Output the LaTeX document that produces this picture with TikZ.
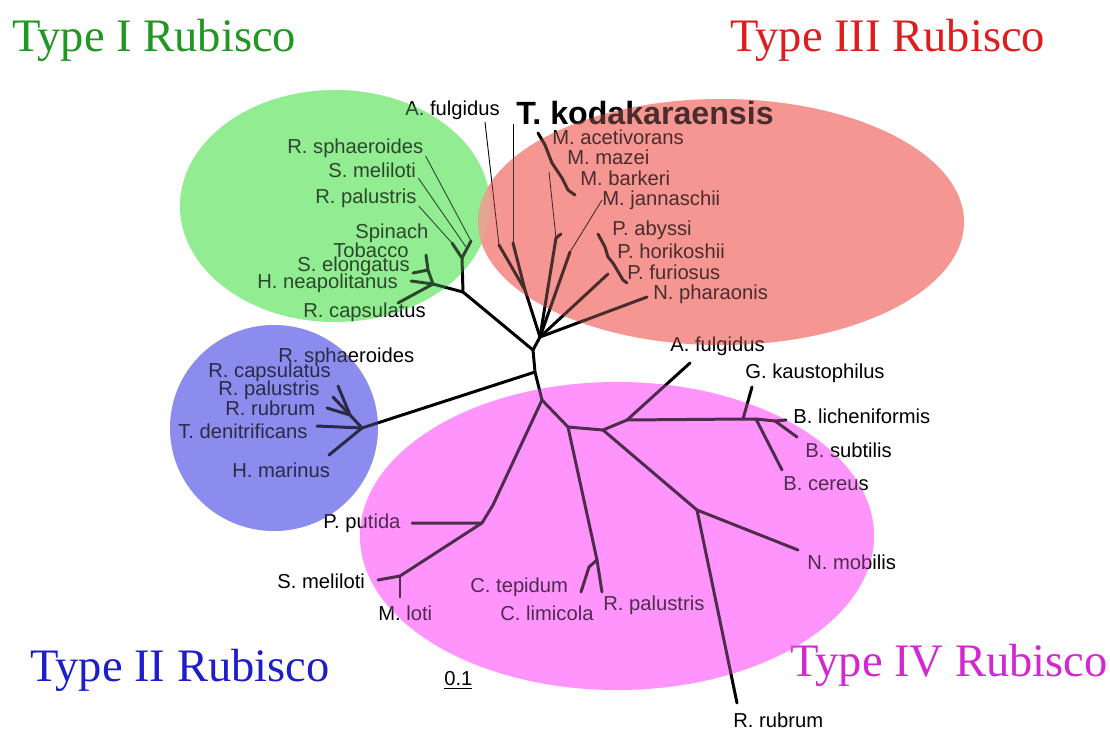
\documentclass[tikz,border=0pt]{standalone}
\usepackage{fontspec}
\setmainfont{Liberation Serif}
\newfontfamily\labfont{Liberation Sans}
\usetikzlibrary{positioning}
\definecolor{grfill}{RGB}{146,236,146}
\definecolor{rdfill}{RGB}{245,150,146}
\definecolor{blfill}{RGB}{140,140,238}
\definecolor{pkfill}{RGB}{255,148,252}
\definecolor{grtxt}{RGB}{34,150,34}
\definecolor{rdtxt}{RGB}{222,30,30}
\definecolor{bltxt}{RGB}{30,30,200}
\definecolor{pktxt}{RGB}{210,40,210}

\begin{document}
\begin{tikzpicture}[x=0.02cm, y=-0.02cm,
	br/.style={line width=1.7pt, line cap=round, line join=round},
	lead/.style={line width=0.5pt},
	lab/.style={font=\labfont\fontsize{11.5}{13}\selectfont, inner sep=0pt, anchor=west},
	ttl/.style={font=\fontsize{26.5}{30}\selectfont, inner sep=0pt, anchor=west},
	tint/.style={fill opacity=0.3}]
				\useasboundingbox (0,0) rectangle (1110,731);
				% draw groups
				\fill[grfill] (335,206) ellipse (155 and 116);
				\fill[rdfill] (721,222) ellipse (243 and 123);
				\fill[blfill] (274,428) ellipse (104 and 103);
				\fill[pkfill] (617,536) ellipse (257 and 154);
				% titles
				\node[ttl, text=grtxt] (t1) at (12,40) {Type I Rubisco};
				\node[ttl, text=rdtxt] (t3) at (730,40) {Type III Rubisco};
				\node[ttl, text=bltxt] (t2) at (30,670) {Type II Rubisco};
				\node[ttl, text=pktxt] (t4) at (790,665) {Type IV Rubisco};
				% backbone
				\coordinate (n3) at (540,337);
				\coordinate (n1) at (533,350);
				\coordinate (n2) at (535,372);
				\coordinate (n4) at (542,400);
				\draw[br] (n3) -- (n1) -- (n2) -- (n4);
				% type I
				\coordinate (i0) at (463,292);
				\coordinate (i1) at (462,258);
				\coordinate (i1a) at (452,243);
				\coordinate (i1b) at (471,241);
				\coordinate (i1c) at (466,247);
				\coordinate (i2) at (433,284);
				\coordinate (i2a) at (411,281);
				\coordinate (i2b) at (398,303);
				\coordinate (i3) at (428,270);
				\coordinate (i3a) at (426,255);
				\coordinate (i3b) at (413,273);
				\draw[br] (n1) -- (i0) -- (i1) -- (i1a);
				\draw[br] (i1) -- (i1b);
				\draw[br] (i0) -- (i2) -- (i2a);
				\draw[br] (i2) -- (i2b);
				\draw[br] (i2) -- (i3) -- (i3a);
				\draw[br] (i3) -- (i3b);
				\node[lab] (g1) at (287,148) {R. sphaeroides};
				\node[lab] (g2) at (328,170) {S. meliloti};
				\node[lab] (g3) at (315,198) {R. palustris};
				\node[lab] (g4) at (355,233) {Spinach};
				\node[lab] (g5) at (333,250) {Tobacco};
				\node[lab] (g6) at (297,266) {S. elongatus};
				\node[lab] (g7) at (257,283) {H. neapolitanus};
				\node[lab] (g8) at (303,312) {R. capsulatus};
				\draw[lead] (g1.east) ++(2,8) -- (i1b);
				\draw[lead] (g2.east) ++(2,8) -- (i1c);
				\draw[lead] (g3.east) ++(2,8) -- (i1a);
				% type III
				\coordinate (k3) at (525,290);
				\coordinate (a3) at (499,245);
				\coordinate (tk) at (513,243);
				\coordinate (m3) at (556,238);
				\coordinate (j3) at (570,252);
				\coordinate (p3) at (608,274);
				\coordinate (np) at (647,297);
				\draw[br] (n3) -- (k3) -- (a3);
				\draw[br] (k3) -- (tk);
				\draw[br] (n3) -- (m3) -- ++(5,-4);
				\draw[br] (n3) -- (j3);
				\draw[br] (n3) -- (p3);
				\draw[br] (n3) -- (np);
				\draw[br] (538,133) -- (545,145) -- (552,163) -- (562,178) -- (568,190) -- (575,195);
				\draw[br] (598,234) -- (605,247) -- (608,257) -- (613,263) -- (623,280) -- (627,283);
				\node[lab] (r0) at (405,110) {A. fulgidus};
				\node[lab, font=\labfont\bfseries\fontsize{18.3}{20}\selectfont] (r1) at (516,113) {T. kodakaraensis};
				\node[lab] (r2) at (552,137) {M. acetivorans};
				\node[lab] (r3) at (567,157) {M. mazei};
				\node[lab] (r4) at (580,178) {M. barkeri};
				\node[lab] (r5) at (602,200) {M. jannaschii};
				\node[lab] (r6) at (612,230) {P. abyssi};
				\node[lab] (r7) at (617,251) {P. horikoshii};
				\node[lab] (r8) at (627,272) {P. furiosus};
				\node[lab] (r9) at (653,294) {N. pharaonis};
				\draw[lead] (485,122) -- (a3);
				\draw[lead] (513,124) -- (tk);
				\draw[lead] (549,172) -- (m3);
				\draw[lead] (r5.west) -- (j3);
				% type II
				\coordinate (b0) at (362,428);
				\coordinate (b1) at (317,426);
				\coordinate (b2) at (329,455);
				\coordinate (b3) at (350,415);
				\draw[br] (n2) -- (b0) -- (b1);
				\draw[br] (b0) -- (b2);
				\draw[br] (b0) -- (b3) -- (338,386);
				\draw[br] (b3) -- (333,397);
				\draw[br] (b3) -- (327,408);
				\node[lab] (u0) at (278,357) {R. sphaeroides};
				\node[lab] (u1) at (208,372) {R. capsulatus};
				\node[lab] (u2) at (218,390) {R. palustris};
				\node[lab] (u3) at (225,408) {R. rubrum};
				\node[lab] (u4) at (178,431) {T. denitrificans};
				\node[lab] (u5) at (232,470) {H. marinus};
				% type IV
				\coordinate (p4) at (482,523);
				\coordinate (sm) at (400,576);
				\coordinate (pp) at (568,427);
				\coordinate (cc) at (597,560);
				\coordinate (ct) at (589,567);
				\coordinate (qq) at (603,430);
				\coordinate (rr) at (627,420);
				\coordinate (gk) at (743,419);
				\coordinate (bc) at (756,419);
				\coordinate (bl) at (775,421);
				\coordinate (ss) at (697,510);
				\draw[br] (n4) -- (493,505) -- (p4) -- (412,523);
				\draw[br] (p4) -- (sm) -- (378,580);
				\draw[br] (sm) -- (400,597);
				\draw[br] (n4) -- (pp) -- (cc) -- (602,592);
				\draw[br] (cc) -- (ct) -- (581,592);
				\draw[br] (pp) -- (qq) -- (rr) -- (690,363);
				\draw[br] (rr) -- (gk) -- (752,387);
				\draw[br] (gk) -- (bc) -- (782,470);
				\draw[br] (bc) -- (bl) -- (786,420);
				\draw[br] (bl) -- (797,437);
				\draw[br] (qq) -- (ss) -- (798,550);
				\draw[br] (ss) -- (737,703);
				\node[lab] (v0) at (670,346) {A. fulgidus};
				\node[lab] (v1) at (745,373) {G. kaustophilus};
				\node[lab] (v2) at (793,416) {B. licheniformis};
				\node[lab] (v3) at (805,450) {B. subtilis};
				\node[lab] (v4) at (783,484) {B. cereus};
				\node[lab] (v5) at (807,562) {N. mobilis};
				\node[lab] (v6) at (733,720) {R. rubrum};
				\node[lab] (v7) at (603,605) {R. palustris};
				\node[lab] (v8) at (470,587) {C. tepidum};
				\node[lab] (v9) at (500,613) {C. limicola};
				\node[lab] (v10) at (378,613) {M. loti};
				\node[lab] (v11) at (277,581) {S. meliloti};
				\node[lab] (v12) at (323,523) {P. putida};
				% scale
				\node[lab] (sc) at (444,680) {\underline{0.1}};
				% tint over the tree
				\fill[grfill, tint] (335,206) ellipse (155 and 116);
				\fill[rdfill, tint] (721,222) ellipse (243 and 123);
				\fill[blfill, tint] (274,428) ellipse (104 and 103);
				\fill[pkfill, tint] (617,536) ellipse (257 and 154);
			\end{tikzpicture}
\end{document}
